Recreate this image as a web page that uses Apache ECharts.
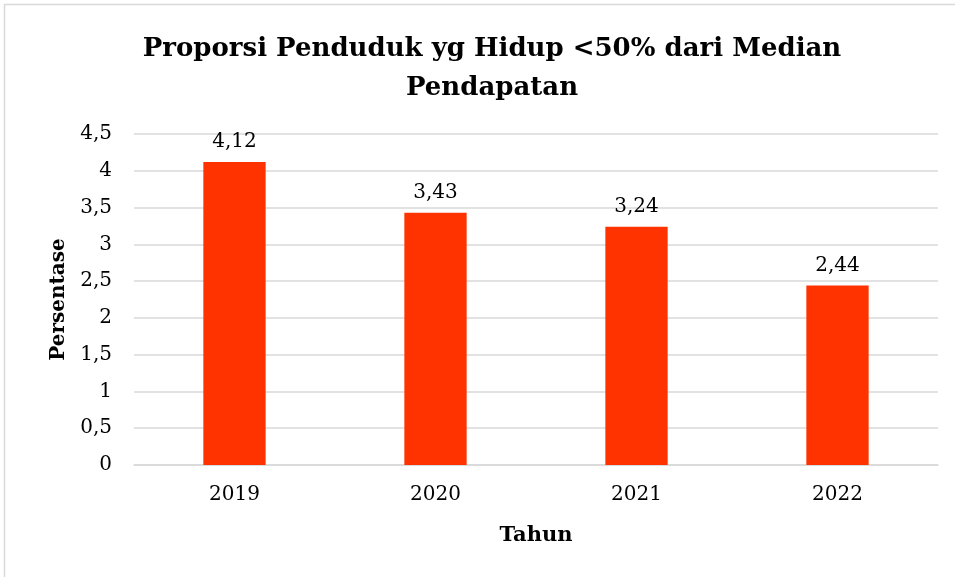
<!DOCTYPE html>
<html><head><meta charset="utf-8">
<script src="https://cdn.jsdelivr.net/npm/echarts@6/dist/echarts.min.js"></script>
<style>html,body{margin:0;padding:0;background:#fff}#c{width:955px;height:577px}</style>
</head><body><div id="c"></div>
<script>
var categories = ['2019', '2020', '2021', '2022'];
var values = [4.12, 3.43, 3.24, 2.44];
var yTicks = [0, 0.5, 1, 1.5, 2, 2.5, 3, 3.5, 4, 4.5];

var fmt = function (v) { return String(v).replace('.', ','); };
var chart = echarts.init(document.getElementById('c'));
var font = '"DejaVu Serif", "Liberation Serif", serif';
chart.setOption({
  animation: false,
  textStyle: { fontFamily: font },
  graphic: [{
    type: 'rect', shape: { x: 4.5, y: 4.5, width: 980, height: 600 },
    style: { fill: 'none', stroke: '#d9d9d9', lineWidth: 1.5 }, silent: true
  }],
  title: {
    text: 'Proporsi Penduduk yg Hidup <50% dari Median\nPendapatan',
    left: 487, top: 25, textAlign: 'center',
    textStyle: { fontFamily: font, fontWeight: 'bold', fontSize: 26, lineHeight: 39, color: '#000' }
  },
  grid: { left: 134, right: 17, top: 134, bottom: 112 },
  xAxis: {
    type: 'category', data: categories,
    axisLine: { lineStyle: { color: '#d9d9d9', width: 1.5 } },
    axisTick: { show: false },
    axisLabel: { color: '#000', fontSize: 20, margin: 20, fontFamily: font },
    name: 'Tahun', nameLocation: 'middle', nameGap: 60,
    nameTextStyle: { color: '#000', fontSize: 21, fontWeight: 'bold', fontFamily: font }
  },
  yAxis: {
    type: 'value', min: 0, max: 4.5, interval: 0.5,
    axisLine: { show: false }, axisTick: { show: false },
    splitLine: { lineStyle: { color: '#d9d9d9', width: 1.5 } },
    axisLabel: { color: '#000', fontSize: 20, margin: 22, fontFamily: font, formatter: fmt },
    name: 'Persentase', nameLocation: 'middle', nameGap: 64,
    nameTextStyle: { color: '#000', fontSize: 20, fontWeight: 'bold', fontFamily: font }
  },
  series: [{
    type: 'bar', data: values, barWidth: '31%',
    itemStyle: { color: '#FF3300' },
    label: { show: true, position: 'top', distance: 10, color: '#000', fontSize: 20, fontFamily: font, formatter: function (p) { return fmt(p.value); } }
  }]
});
</script></body></html>
